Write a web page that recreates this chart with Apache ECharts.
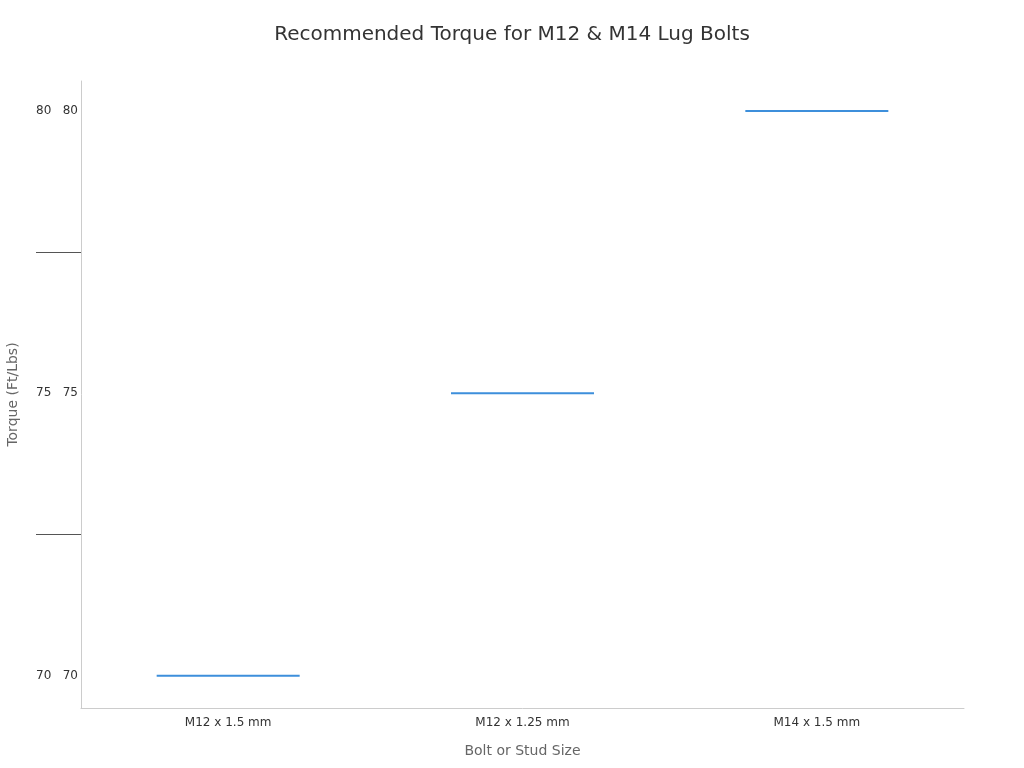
<!DOCTYPE html>
<html>
<head>
<meta charset="utf-8">
<script src="https://cdn.jsdelivr.net/npm/echarts@6/dist/echarts.min.js"></script>
<style>
  html, body { margin: 0; padding: 0; background: #fff; }
  #main { width: 1024px; height: 768px; }
</style>
</head>
<body>
<div id="main"></div>
<script>
var categories = ['M12 x 1.5 mm', 'M12 x 1.25 mm', 'M14 x 1.5 mm'];
var torque = [70, 75, 80];
var yLabelValues = [70, 75, 80];
var yTickValues = [72.5, 77.5];

var myChart = echarts.init(document.getElementById('main'));
var option = {
  textStyle: { fontFamily: 'DejaVu Sans' },
  title: {
    text: 'Recommended Torque for M12 & M14 Lug Bolts',
    left: 'center',
    top: 20,
    textStyle: { fontSize: 20, fontWeight: 'normal', color: '#333', fontFamily: 'DejaVu Sans' }
  },
  grid: { left: 81, right: 60, top: 81, bottom: 60, outerBoundsMode: 'none', containLabel: false },
  xAxis: {
    type: 'category',
    data: categories,
    name: 'Bolt or Stud Size',
    nameLocation: 'middle',
    nameGap: 36,
    nameTextStyle: { fontSize: 14, color: '#666' },
    axisLine: { lineStyle: { color: '#ccc' } },
    axisTick: { alignWithLabel: true, length: 4, lineStyle: { color: '#999' } },
    axisLabel: { fontSize: 12, color: '#333', margin: 9 },
    splitLine: { show: false }
  },
  yAxis: {
    type: 'value',
    min: 69.43,
    max: 80.53,
    name: 'Torque (Ft/Lbs)',
    nameLocation: 'middle',
    nameGap: 61,
    nameTextStyle: { fontSize: 14, color: '#666' },
    axisLine: { show: true, lineStyle: { color: '#ccc' } },
    axisTick: {
      show: true,
      customValues: yTickValues,
      length: 45,
      lineStyle: { color: '#555' }
    },
    axisLabel: {
      customValues: yLabelValues,
      fontSize: 12,
      color: '#333',
      margin: 3,
      formatter: function (v) { return v + '   ' + v; }
    },
    splitLine: { show: false }
  },
  series: [{
    type: 'boxplot',
    boxWidth: [143, 143],
    data: torque.map(function (v) { return [v, v, v, v, v]; }),
    itemStyle: { color: '#fff', borderColor: '#3d8fdb', borderWidth: 2 }
  }]
};
myChart.setOption(option);
</script>
</body>
</html>
